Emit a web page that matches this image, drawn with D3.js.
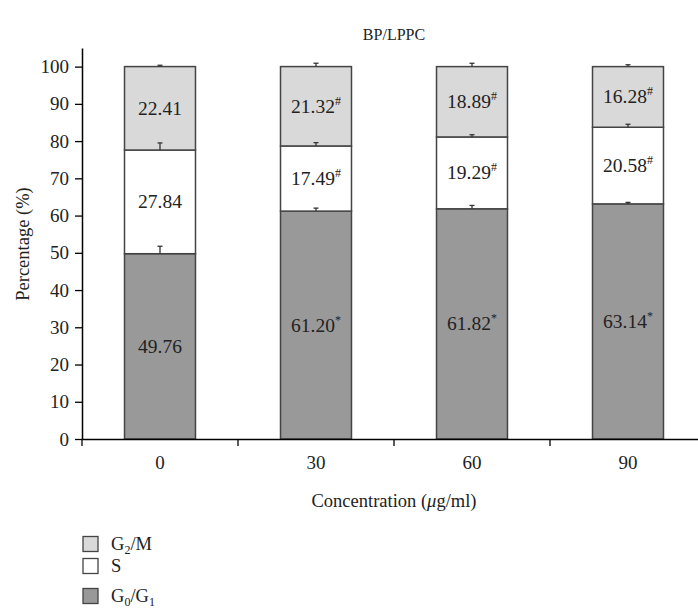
<!DOCTYPE html>
<html>
<head>
<meta charset="utf-8">
<script src="https://cdn.jsdelivr.net/npm/d3@7"></script>
<style>
  body { margin: 0; background: #fff; }
  svg text { font-family: "Liberation Serif", "DejaVu Serif", serif !important; fill: #222; }
</style>
</head>
<body>
<svg id="chart" width="698" height="614"></svg>
<script>
// data
var concentrations = ["0", "30", "60", "90"];
var g0g1 = [49.76, 61.20, 61.82, 63.14];
var sPhase = [27.84, 17.49, 19.29, 20.58];
var g2m = [22.41, 21.32, 18.89, 16.28];
var g0g1Err = [2.0, 0.8, 0.9, 0.4];
var sErr = [1.9, 0.9, 0.6, 0.8];
var g2mErr = [0.35, 0.9, 0.9, 0.5];
var g0g1Mark = ["", "*", "*", "*"];
var sMark = ["", "#", "#", "#"];
var g2mMark = ["", "#", "#", "#"];
var yTicks = [0, 10, 20, 30, 40, 50, 60, 70, 80, 90, 100];

var svg = d3.select("#chart");
var serif = "Liberation Serif";
var marginLeft = 82;
var plotRight = 706; // axis runs off the right edge in the original
var plotTop = 48;
var plotBottom = 439;

var x = d3.scaleBand().domain(concentrations).range([marginLeft, plotRight]).paddingInner(0.545).paddingOuter(0.2725);
var y = d3.scaleLinear().domain([0, 105]).range([plotBottom, plotTop]);

// stacked layers, bottom to top
var layers = [
  {name: "G0/G1", vals: g0g1, err: g0g1Err, mark: g0g1Mark, fill: "#999999"},
  {name: "S", vals: sPhase, err: sErr, mark: sMark, fill: "#ffffff"},
  {name: "G2/M", vals: g2m, err: g2mErr, mark: g2mMark, fill: "#d9d9d9"}
];
var rows = [];
concentrations.forEach(function(c, i) {
  var base = 0;
  layers.forEach(function(l) {
    rows.push({c: c, y0: base, y1: base + l.vals[i], v: l.vals[i], err: l.err[i], mark: l.mark[i], fill: l.fill});
    base += l.vals[i];
  });
});

// bars
svg.selectAll(".seg")
   .data(rows)
   .enter()
   .append("rect")
   .attr("class", "seg")
   .attr("x", function(d) { return x(d.c); })
   .attr("y", function(d) { return y(d.y1); })
   .attr("width", x.bandwidth())
   .attr("height", function(d) { return y(d.y0) - y(d.y1); })
   .attr("fill", function(d) { return d.fill; })
   .attr("stroke", "#444")
   .attr("stroke-width", 1.5);

// error bars (upper only)
var eb = svg.selectAll(".err").data(rows).enter().append("g").attr("class", "err")
   .attr("stroke", "#333").attr("stroke-width", 1.3);
eb.append("line")
  .attr("x1", function(d) { return x(d.c) + x.bandwidth() / 2; })
  .attr("x2", function(d) { return x(d.c) + x.bandwidth() / 2; })
  .attr("y1", function(d) { return y(d.y1); })
  .attr("y2", function(d) { return y(d.y1 + d.err); });
eb.append("line")
  .attr("x1", function(d) { return x(d.c) + x.bandwidth() / 2 - 2.5; })
  .attr("x2", function(d) { return x(d.c) + x.bandwidth() / 2 + 2.5; })
  .attr("y1", function(d) { return y(d.y1 + d.err); })
  .attr("y2", function(d) { return y(d.y1 + d.err); });

// value labels
var lab = svg.selectAll(".val").data(rows).enter().append("text")
   .attr("class", "val")
   .attr("x", function(d) { return x(d.c) + x.bandwidth() / 2; })
   .attr("y", function(d) { return y((d.y0 + d.y1) / 2) + 6.5; })
   .attr("text-anchor", "middle")
   .attr("font-family", serif)
   .style("font-size", "19.5px");
lab.append("tspan").text(function(d) { return d.v.toFixed(2); });
lab.append("tspan")
   .attr("dy", function(d) { return d.mark ? -8 : 0; })
   .style("font-size", "12px")
   .text(function(d) { return d.mark; });

// y axis
var yAxis = svg.append("g")
   .attr("transform", "translate(" + marginLeft + ",0)")
   .attr("font-family", serif)
   .call(d3.axisLeft(y).tickValues(yTicks).tickSize(7).tickPadding(6).tickSizeOuter(0));
yAxis.attr("font-family", serif);
yAxis.select(".domain").attr("stroke", "#000").attr("stroke-width", 1.5);
yAxis.selectAll(".tick line").attr("stroke", "#000").attr("stroke-width", 1.3);
yAxis.selectAll("text").style("font-size", "19px").attr("fill", "#222");

// x axis: labels at band centres, ticks at band boundaries
var xAxis = svg.append("g")
   .attr("transform", "translate(0," + plotBottom + ")")
   .call(d3.axisBottom(x).tickSize(0).tickPadding(17).tickSizeOuter(0));
xAxis.attr("font-family", serif);
xAxis.select(".domain").attr("stroke", "#000").attr("stroke-width", 1.5);
xAxis.selectAll("text").style("font-size", "19px").attr("fill", "#222");
var bounds = concentrations.map(function(c) { return x(c) - x.step() * x.paddingInner() / 2; });
bounds.push(plotRight);
xAxis.selectAll(".bound").data(bounds).enter().append("line")
   .attr("x1", function(d) { return d; }).attr("x2", function(d) { return d; })
   .attr("y1", 0).attr("y2", 7)
   .attr("stroke", "#000").attr("stroke-width", 1.3);

// title and axis titles
svg.append("text").attr("x", (marginLeft + plotRight) / 2).attr("y", 40)
   .attr("font-family", serif)
   .attr("text-anchor", "middle").style("font-size", "16px").text("BP/LPPC");
svg.append("text").attr("transform", "translate(29,244) rotate(-90)")
   .attr("font-family", serif)
   .attr("text-anchor", "middle").style("font-size", "18.5px").text("Percentage (%)");
var xt = svg.append("text").attr("x", (marginLeft + plotRight) / 2).attr("y", 507)
   .attr("font-family", serif)
   .attr("text-anchor", "middle").style("font-size", "18.5px");
xt.append("tspan").text("Concentration (");
xt.append("tspan").style("font-style", "italic").text("μ");
xt.append("tspan").text("g/ml)");

// legend
var legendItems = [
  {fill: "#d9d9d9", main: "G", sub: "2", rest: "/M", cy: 544},
  {fill: "#ffffff", main: "S", sub: "", rest: "", cy: 566},
  {fill: "#999999", main: "G", sub: "0", rest: "/G", sub2: "1", cy: 596}
];
var lg = svg.selectAll(".leg").data(legendItems).enter().append("g").attr("class", "leg");
lg.append("rect")
  .attr("x", 83).attr("y", function(d) { return d.cy - 7.5; })
  .attr("width", 15).attr("height", 15)
  .attr("fill", function(d) { return d.fill; })
  .attr("stroke", "#444").attr("stroke-width", 1.3);
var lt = lg.append("text").attr("x", 111).attr("y", function(d) { return d.cy + 6; })
  .attr("font-family", serif)
  .style("font-size", "18.5px");
lt.append("tspan").text(function(d) { return d.main; });
lt.append("tspan").attr("dy", 4).style("font-size", "12px").text(function(d) { return d.sub; });
lt.append("tspan").attr("dy", function(d) { return d.sub ? -4 : 0; }).text(function(d) { return d.rest; });
lt.append("tspan").attr("dy", function(d) { return d.sub2 ? 4 : 0; }).style("font-size", "12px")
  .text(function(d) { return d.sub2 || ""; });
</script>
</body>
</html>
